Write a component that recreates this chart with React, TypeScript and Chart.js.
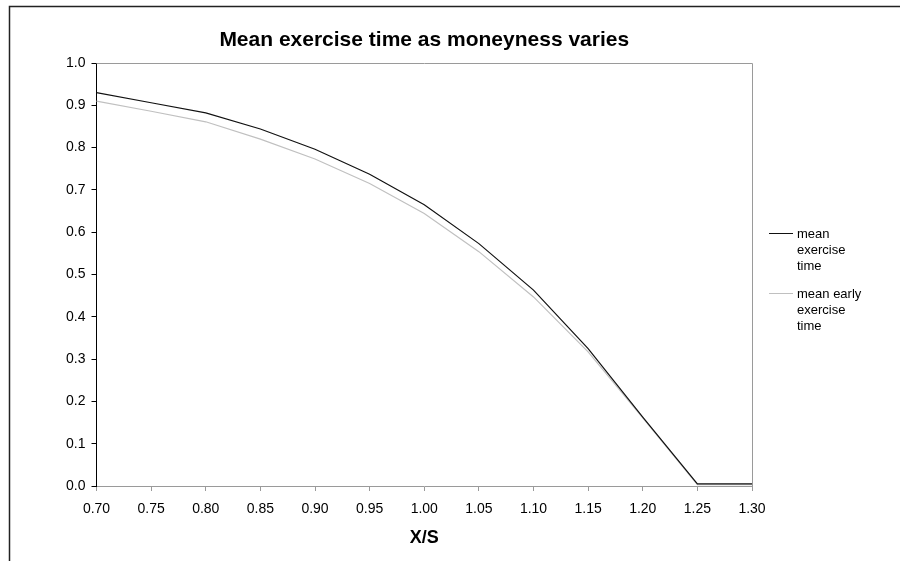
import React, { useEffect, useRef } from "react";
import { Chart, registerables } from "chart.js";

Chart.register(...registerables);

const categories = ["0.70", "0.75", "0.80", "0.85", "0.90", "0.95", "1.00", "1.05", "1.10", "1.15", "1.20", "1.25", "1.30"];
const meanExercise = [0.930, 0.906, 0.882, 0.844, 0.796, 0.737, 0.665, 0.573, 0.463, 0.325, 0.163, 0.005, 0.005];
const meanEarlyExercise = [0.910, 0.886, 0.861, 0.820, 0.773, 0.715, 0.644, 0.554, 0.447, 0.317, 0.161, 0.003, 0.003];
const seriesLabels = [["mean", "exercise", "time"], ["mean early", "exercise", "time"]];
const chartTitle = "Mean exercise time as moneyness varies";
const xTitle = "X/S";

const FONT = "Arial, 'Liberation Sans', sans-serif";

const framePlugin = {
  id: "frameAndLegend",
  beforeDraw(chart: any) {
    const ctx = chart.ctx;
    ctx.save();
    ctx.fillStyle = "#ffffff";
    ctx.fillRect(0, 0, chart.width, chart.height);
    ctx.strokeStyle = "#222222";
    ctx.lineWidth = 1.5;
    ctx.strokeRect(9.5, 6.5, 2000, 2000);
    ctx.restore();
  },
  afterDraw(chart: any) {
    const ctx = chart.ctx;
    const { left, top, right, bottom } = chart.chartArea;
    ctx.save();
    // chart title, centred over the plot area
    ctx.fillStyle = "#000000";
    ctx.font = `bold 21px ${FONT}`;
    ctx.textAlign = "center";
    ctx.textBaseline = "middle";
    ctx.fillText(chartTitle, (left + right) / 2, 40);
    // plot area border top and right
    ctx.strokeStyle = "#9a9a9a";
    ctx.lineWidth = 1;
    ctx.beginPath();
    ctx.moveTo(left, Math.round(top) + 0.5);
    ctx.lineTo(Math.round(right) + 0.5, Math.round(top) + 0.5);
    ctx.lineTo(Math.round(right) + 0.5, bottom);
    ctx.stroke();
    // legend
    ctx.font = `13px ${FONT}`;
    ctx.textBaseline = "middle";
    ctx.textAlign = "left";
    const lineH = 16.3;
    const starts = [234, 294];
    chart.data.datasets.forEach((ds: any, i: number) => {
      const y0 = starts[i];
      ctx.strokeStyle = ds.borderColor;
      ctx.lineWidth = 1;
      ctx.beginPath();
      ctx.moveTo(769, Math.round(y0 - 1.5) + 0.5);
      ctx.lineTo(793, Math.round(y0 - 1.5) + 0.5);
      ctx.stroke();
      ctx.fillStyle = "#000000";
      (ds.legendLines as string[]).forEach((t, j) => {
        ctx.fillText(t, 797, y0 + j * lineH);
      });
    });
    ctx.restore();
  },
};

export default function App() {
  const ref = useRef<HTMLCanvasElement | null>(null);
  useEffect(() => {
    if (!ref.current) return;
    const chart = new Chart(ref.current, {
      type: "line",
      data: {
        labels: categories,
        datasets: [
          {
            label: seriesLabels[0].join(" "),
            legendLines: seriesLabels[0],
            data: meanExercise,
            borderColor: "#111111",
            borderWidth: 1.2,
            pointRadius: 0,
            tension: 0,
            fill: false,
          } as any,
          {
            label: seriesLabels[1].join(" "),
            legendLines: seriesLabels[1],
            data: meanEarlyExercise,
            borderColor: "#c0c0c0",
            borderWidth: 1.2,
            pointRadius: 0,
            tension: 0,
            fill: false,
          } as any,
        ],
      },
      options: {
        animation: false,
        responsive: false,
        maintainAspectRatio: false,
        layout: { padding: { left: 0, right: 148, top: 63, bottom: 0 } },
        plugins: {
          legend: { display: false },
          tooltip: { enabled: false },
          title: { display: false },
        },
        scales: {
          x: {
            type: "category",
            offset: false,
            afterFit(scale: any) {
              scale.height = 75;
            },
            border: { display: true, color: "#9a9a9a", width: 1 },
            grid: { display: true, drawOnChartArea: false, drawTicks: true, tickLength: 5, tickColor: "#9a9a9a" },
            ticks: {
              color: "#000000",
              font: { family: FONT, size: 14 },
              padding: 10,
              maxRotation: 0,
              autoSkip: false,
            },
            title: {
              display: true,
              text: xTitle,
              color: "#000000",
              font: { family: FONT, size: 18, weight: "bold", lineHeight: 1.2 },
              padding: { top: 0, bottom: 12 },
            },
          },
          y: {
            min: 0,
            max: 1,
            afterFit(scale: any) {
              scale.width = 96.5;
            },
            border: { display: true, color: "#000000", width: 1 },
            grid: { display: true, drawOnChartArea: false, drawTicks: true, tickLength: 5, tickColor: "#000000" },
            ticks: {
              stepSize: 0.1,
              color: "#000000",
              font: { family: FONT, size: 14 },
              padding: 6,
              callback: (v: any) => Number(v).toFixed(1),
            },
          },
        },
      },
      plugins: [framePlugin],
    } as any);
    return () => chart.destroy();
  }, []);
  return (
    <div style={{ position: "fixed", left: 0, top: 0, width: 900, height: 561, background: "#fff" }}>
      <canvas ref={ref} width={900} height={561} style={{ width: 900, height: 561, display: "block" }} />
    </div>
  );
}
